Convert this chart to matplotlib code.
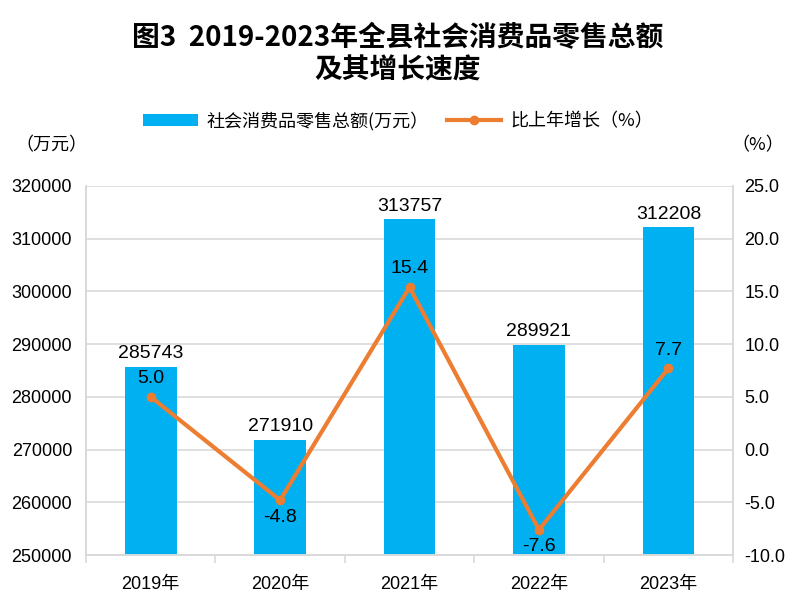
import matplotlib
matplotlib.use("Agg")
import matplotlib.pyplot as plt
from matplotlib import font_manager as fm
import numpy as np

years = ["2019年", "2020年", "2021年", "2022年", "2023年"]
sales = [285743, 271910, 313757, 289921, 312208]
growth = [5.0, -4.8, 15.4, -7.6, 7.7]
growth_pos = ["above", "below", "above", "below", "above"]

names = {f.name for f in fm.fontManager.ttflist}
narrow = "Liberation Sans Narrow" if "Liberation Sans Narrow" in names else "Liberation Sans"
fam = [narrow, "Noto Sans CJK SC", "DejaVu Sans"]
cjk = ["Noto Sans CJK SC", "DejaVu Sans"]
plt.rcParams['font.family'] = fam

fig = plt.figure(figsize=(7.96, 6.04), dpi=100)
ax = fig.add_axes([0.108, 0.0811, 0.813, 0.611])
ax2 = ax.twinx()

x = np.arange(len(years))
bar_color = "#00B0F0"
line_color = "#ED7D31"
grid_color = "#D9D9D9"

ax.bar(x, sales, width=0.4, color=bar_color, zorder=2, label="社会消费品零售总额(万元）")
ax.set_ylim(250000, 320000)
ax.set_yticks(np.arange(250000, 320001, 10000))
ax.set_xlim(-0.5, 4.5)
ax.grid(axis='y', color=grid_color, linewidth=1.2, zorder=0)
ax.set_axisbelow(True)
ax.set_xticks(x)
ax.set_xticklabels(years, fontsize=13, family=fam)
ax.tick_params(axis='x', which='major', length=0, pad=15)
ax.set_xticks(np.arange(-0.5, 4.6, 1), minor=True)
ax.tick_params(axis='x', which='minor', length=6, color=grid_color, width=1.2)
ax.tick_params(axis='y', length=0, labelsize=13, pad=10)
for lab in ax.get_yticklabels():
    lab.set_family(fam)

for s in ax.spines.values():
    s.set_color(grid_color)
    s.set_linewidth(1.2)
for s in ax2.spines.values():
    s.set_color(grid_color)
    s.set_linewidth(1.2)
ax.spines['top'].set_visible(False)
ax2.spines['top'].set_visible(False)

for xi, v in zip(x, sales):
    ax.annotate(f"{v}", (xi, v), xytext=(0, 3), textcoords="offset points",
                ha='center', va='bottom', fontsize=14, family=fam, zorder=5)

ax2.plot(x, growth, color=line_color, linewidth=3, marker='o', markersize=6,
         zorder=4, label="比上年增长（%）")
ax2.set_ylim(-10, 25)
ax2.set_yticks(np.arange(-10, 25.1, 5))
ax2.set_yticklabels([f"{t:.1f}" for t in np.arange(-10, 25.1, 5)], fontsize=13, family=fam)
ax2.tick_params(axis='y', length=0, pad=8)

for xi, v, p in zip(x, growth, growth_pos):
    if p == "above":
        ax2.annotate(f"{v:.1f}", (xi, v), xytext=(0, 7), textcoords="offset points",
                     ha='center', va='bottom', fontsize=14, family=fam, zorder=6)
    else:
        ax2.annotate(f"{v:.1f}", (xi, v), xytext=(0, -6), textcoords="offset points",
                     ha='center', va='top', fontsize=14, family=fam, zorder=6)

fig.text(0.5, 0.91, "图3  2019-2023年全县社会消费品零售总额\n及其增长速度", ha='center', va='center',
         fontsize=20, fontweight='bold', family=cjk, linespacing=1.18)

fig.text(0.02, 0.76, "（万元）", fontsize=13, family=cjk, ha='left', va='center')
fig.text(0.985, 0.76, "（%）", fontsize=13, family=cjk, ha='right', va='center')

h1, l1 = ax.get_legend_handles_labels()
h2, l2 = ax2.get_legend_handles_labels()
fig.legend(h1 + h2, l1 + l2, loc='center', bbox_to_anchor=(0.5, 0.8), ncol=2, frameon=False,
           prop={'family': cjk, 'size': 13}, handlelength=3, columnspacing=1.0, handletextpad=0.5)

fig.savefig("out.png", dpi=100)
